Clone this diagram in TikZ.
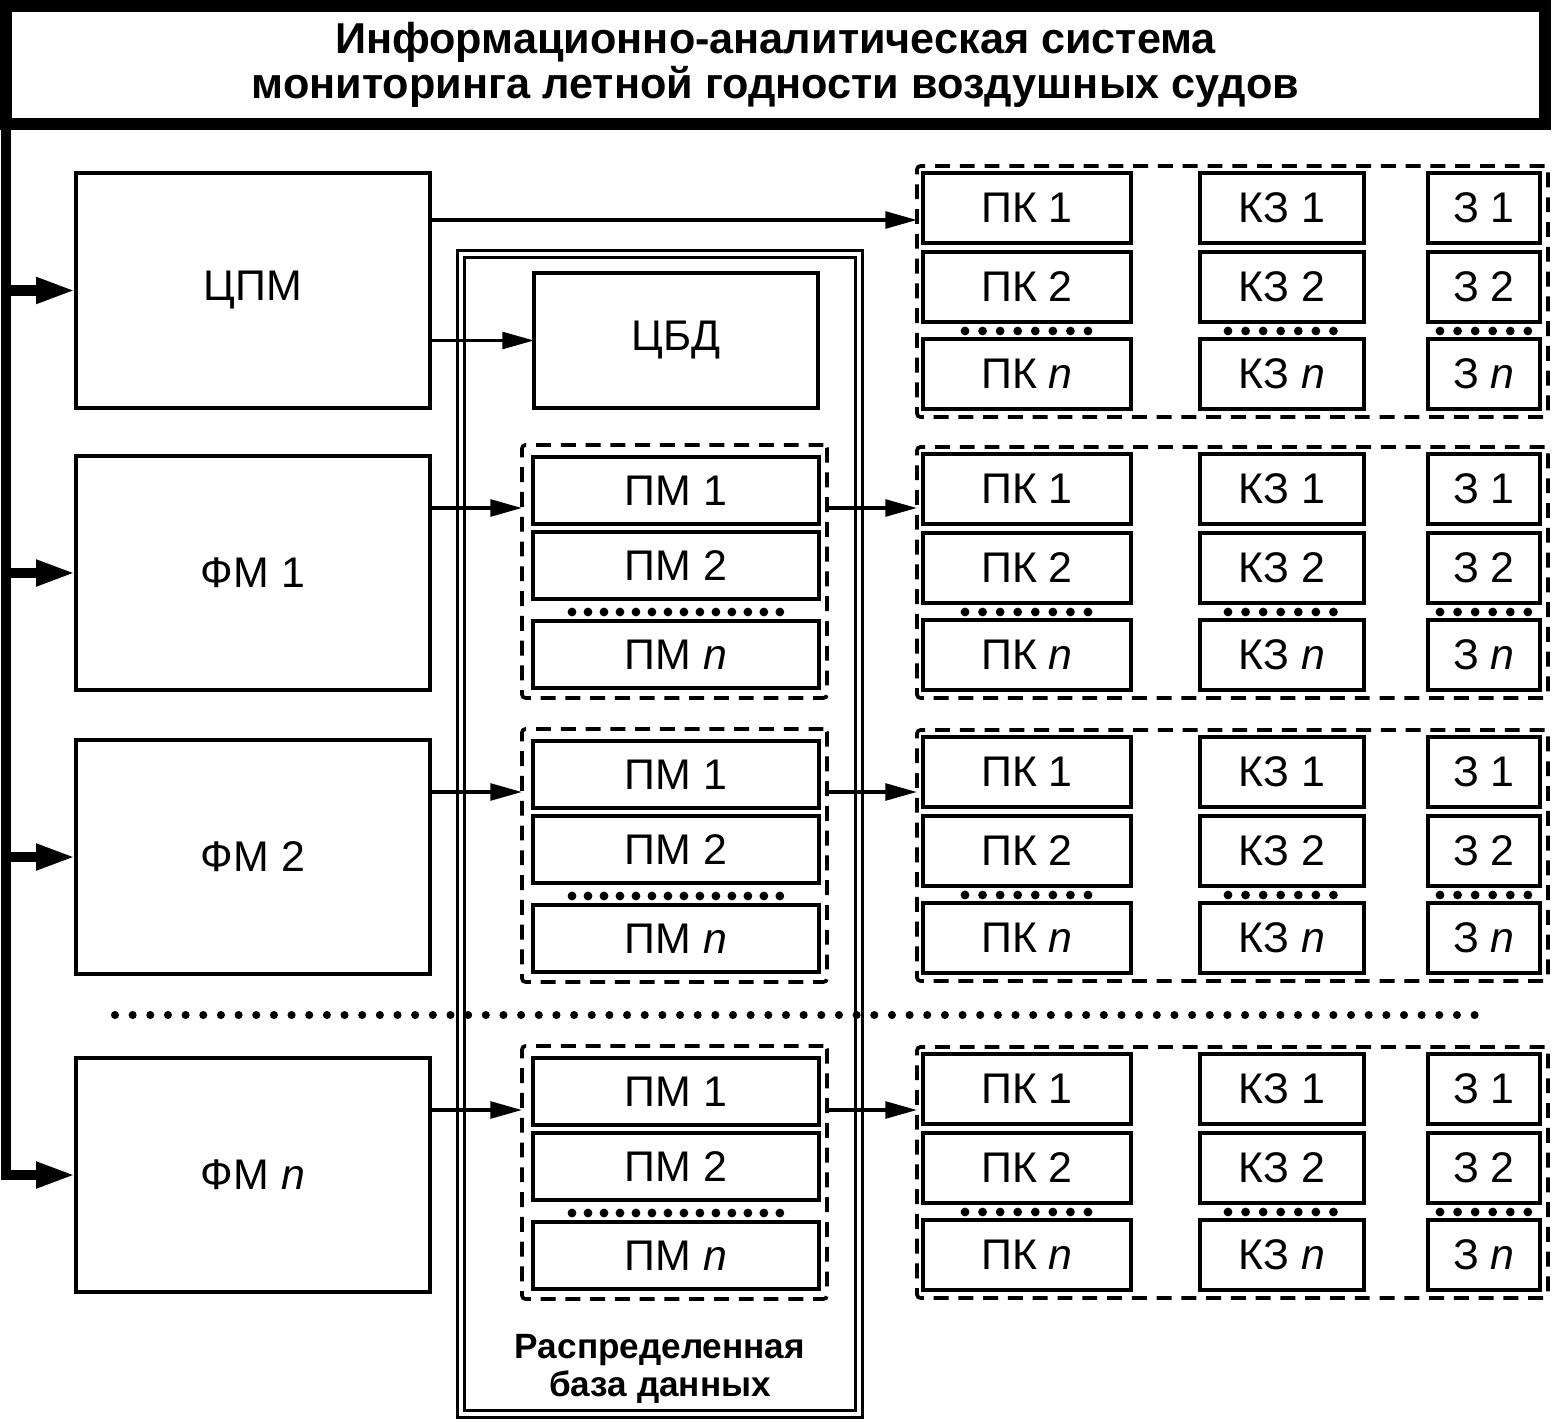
\documentclass[tikz,border=0pt]{standalone}
\usepackage{fontspec}
\setmainfont{Liberation Sans}
\setsansfont{Liberation Sans}
\usepackage{tikz}
\usetikzlibrary{arrows,calc,arrows.meta,positioning}

\begin{document}
\begin{tikzpicture}[x=0.02cm, y=-0.02cm,
        >={Triangle[length=18pt,width=9.5pt]},
        every node/.style={outer sep=0pt, inner sep=0pt},
        blk/.style={draw, line width=2.1pt, anchor=north west, minimum width=354*\px, minimum height=234*\px, font=\lbl},
        cell/.style={draw, line width=2.6pt, anchor=north west, minimum height=70*\px, font=\lbl},
        grp/.style={draw, line width=2.1pt, dash pattern=on 8.5pt off 5.6pt, rounded corners=2pt, anchor=north west},
        arr/.style={->, line width=2pt},
        bus/.style={-{Triangle[length=22.7pt,width=13.6pt]}, line width=5.7pt},
        dotrow/.style={line width=5pt, line cap=round, dash pattern=on 0pt off #1},
        dotrow/.default=10pt]
        \sffamily
        \newcommand{\px}{0.02cm}
        \newcommand{\lbl}{\fontsize{24.4}{28}\selectfont}
        \useasboundingbox (0,0) rectangle (1552,1422);

        \node[draw, line width=6.8pt, anchor=north west, minimum width=1539*\px, minimum height=118*\px,
            align=center, font=\fontsize{24.6}{25.6}\selectfont\bfseries] (title) at (6,6)
            {Информационно-аналитическая система\\мониторинга летной годности воздушных судов};

        \node[blk, minimum height=235*\px] (CPM) at (76,173) {ЦПМ};
        \node[blk] (FM1) at (76,456) {ФМ 1};
        \node[blk] (FM2) at (76,740) {ФМ 2};
        \node[blk] (FMn) at (76,1058) {ФМ \textit{n}};

        % distributed database
        \node[draw, double, line width=1.7pt, double distance=2.8pt, anchor=north west,
            minimum width=398*\px, minimum height=1160*\px] (DB) at (461,254) {};
        \node[cell, minimum width=284*\px, minimum height=135*\px] (CBD) at (534,273) {ЦБД};
        \node[font=\fontsize{20}{21.5}\selectfont\bfseries, align=center] (DBname)
            at ($(DB.south)+(0,-45)$) {Распределенная\\база данных};

        \foreach \i/\r in {1/457, 2/741, n/1058} {
            \node[grp, minimum width=305*\px, minimum height=253*\px] (PMG\i) at (522,\r-12) {};
            \node[cell, minimum width=286*\px, minimum height=67*\px] (PMa\i) at (533,\r) {ПМ 1};
            \node[cell, minimum width=286*\px, minimum height=67*\px] (PMb\i) at (533,\r+75) {ПМ 2};
            \node[cell, minimum width=286*\px, minimum height=67*\px] (PMc\i) at (533,\r+164) {ПМ \textit{n}};
            \draw[dotrow=9.1pt] ($(PMb\i.south west)+(39,13)$) -- ($(PMb\i.south east)+(-36,13)$);
        }

        \foreach \g/\b in {0/173, 1/454, 2/737, n/1054} {
            \node[grp, minimum width=631*\px, minimum height=251*\px] (G\g) at (917,\b-7) {};
            \foreach \k/\t/\s in {1/0/1, 2/79/2, n/166/\textit{n}} {
                \node[cell, minimum width=208*\px] (PK\g\k) at (923,\b+\t) {ПК \s};
                \node[cell, minimum width=164*\px] (KZ\g\k) at (1200,\b+\t) {КЗ \s};
                \node[cell, minimum width=112*\px] (Z\g\k) at (1428,\b+\t) {З \s};
            }
            \draw[dotrow] ($(PK\g2.south west)+(42,9)$) -- ($(PK\g2.south east)+(-41,9)$);
            \draw[dotrow] ($(KZ\g2.south west)+(28,9)$) -- ($(KZ\g2.south east)+(-28,9)$);
            \draw[dotrow] ($(Z\g2.south west)+(12,9)$) -- ($(Z\g2.south east)+(-11,9)$);
        }

        % bus
        \draw[bus] (title.south west) |- (FMn.west);
        \foreach \m in {CPM, FM1, FM2}
            \draw[bus] (\m.west -| title.west) -- (\m.west);

        \coordinate (c0) at ($(CPM.north east)+(0,47)$);
        \draw[arr] (c0) -- (c0 -| G0.west);
        \draw[arr] (CPM.east |- CBD.west) -- (CBD.west);
        \foreach \i in {1, 2, n} {
            \coordinate (c\i) at ($(FM\i.north east)+(0,52)$);
            \draw[arr] (c\i) -- (c\i -| PMG\i.west);
            \draw[arr] (c\i -| PMG\i.east) -- (c\i -| G\i.west);
        }

        \draw[dotrow=10.05pt, line width=4.6pt] ($(FM2.south west)+(39,41)$) -- ($(FM2.south west -| G2.east)+(-67,41)$);
    \end{tikzpicture}
\end{document}
